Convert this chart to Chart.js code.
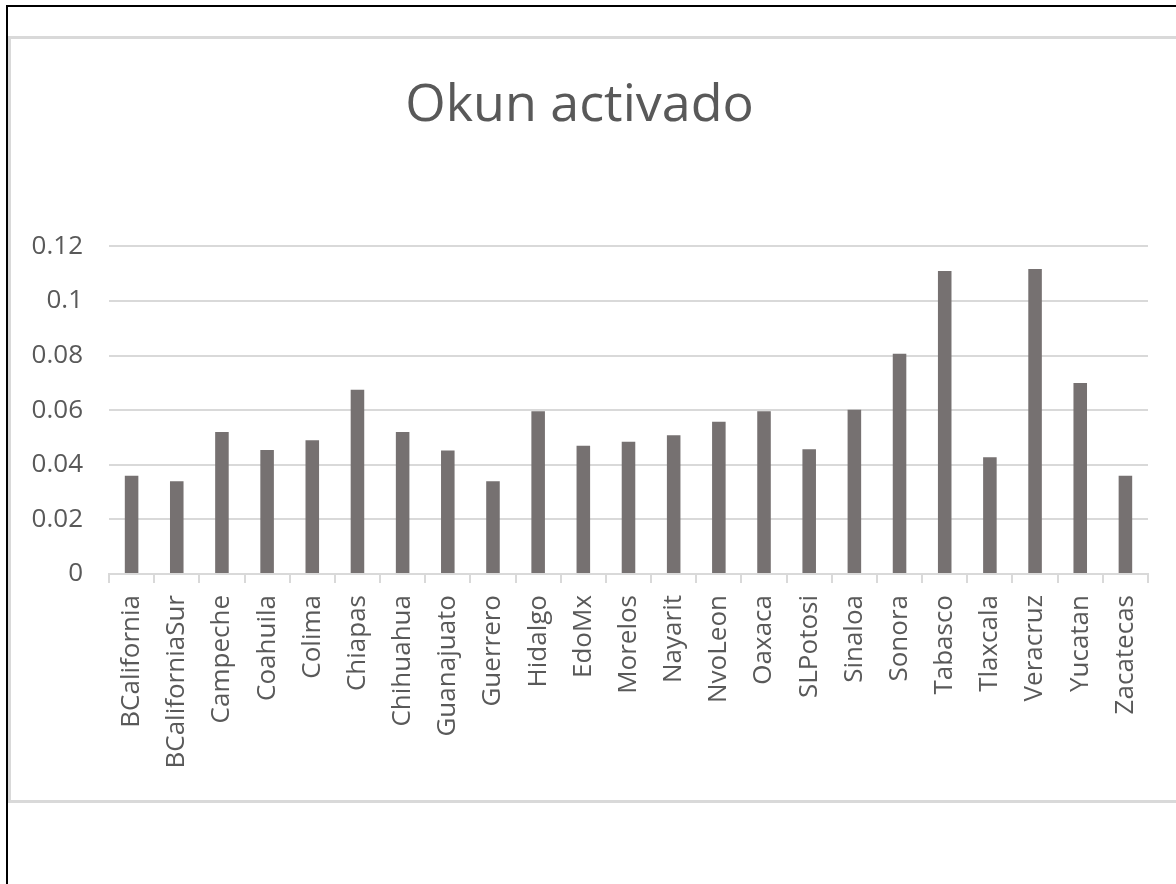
<!DOCTYPE html>
<html>
<head>
<meta charset="utf-8">
<script src="https://cdn.jsdelivr.net/npm/chart.js@4"></script>
<style>
    html, body { margin: 0; padding: 0; background: #fff; overflow: hidden; }
    .outer {
        position: absolute; left: 6px; top: 5px; width: 1200px; height: 900px;
        border-top: 2px solid #000; border-left: 2px solid #000;
    }
    .frame {
        position: absolute; left: 8px; top: 36px; width: 1200px; height: 761px;
        border: 3px solid #d9d9d9; background: #fff;
    }
    #chart { position: absolute; left: 11px; top: 39px; }
</style>
</head>
<body>
<div class="outer"></div>
<div class="frame"></div>
<canvas id="chart" width="1165" height="760"></canvas>
<script>
const states = ['BCalifornia', 'BCaliforniaSur', 'Campeche', 'Coahuila', 'Colima', 'Chiapas', 'Chihuahua',
    'Guanajuato', 'Guerrero', 'Hidalgo', 'EdoMx', 'Morelos', 'Nayarit', 'NvoLeon', 'Oaxaca', 'SLPotosi',
    'Sinaloa', 'Sonora', 'Tabasco', 'Tlaxcala', 'Veracruz', 'Yucatan', 'Zacatecas'];
const okunValues = [0.036, 0.034, 0.052, 0.0454, 0.049, 0.0675, 0.052,
    0.0452, 0.034, 0.0596, 0.047, 0.0484, 0.0508, 0.0558, 0.0596, 0.0457,
    0.0602, 0.0807, 0.111, 0.0428, 0.1117, 0.070, 0.036];
const yTickValues = [0, 0.02, 0.04, 0.06, 0.08, 0.1, 0.12];
const yTickLabels = ['0', '0.02', '0.04', '0.06', '0.08', '0.1', '0.12'];

const textColor = '#595959';
const gridColor = '#d9d9d9';
const fontFamily = '"Open Sans", "Noto Sans", sans-serif';

const ctx = document.getElementById('chart').getContext('2d');
new Chart(ctx, {
    type: 'bar',
    data: {
        labels: states,
        datasets: [{
            label: 'Okun activado',
            data: okunValues,
            backgroundColor: '#767171',
            borderWidth: 0,
            barPercentage: 0.3,
            categoryPercentage: 1
        }]
    },
    options: {
        responsive: false,
        animation: false,
        layout: { padding: { left: 0, right: 28, top: 0, bottom: 0 } },
        plugins: {
            legend: { display: false },
            tooltip: { enabled: false },
            title: {
                display: true,
                text: 'Okun activado',
                color: textColor,
                font: { family: fontFamily, size: 52, weight: 'normal' },
                padding: { top: 36, bottom: 109 }
            }
        },
        scales: {
            x: {
                grid: { display: true, drawOnChartArea: false, offset: true, tickLength: 9, color: gridColor, lineWidth: 2 },
                border: { display: true, color: gridColor, width: 2 },
                ticks: {
                    color: textColor,
                    font: { family: fontFamily, size: 26 },
                    minRotation: 90, maxRotation: 90,
                    autoSkip: false,
                    padding: 12
                },
                afterFit: (scale) => { scale.height = 225; }
            },
            y: {
                min: 0, max: 0.12,
                afterBuildTicks: (scale) => { scale.ticks = yTickValues.map(v => ({ value: v })); },
                grid: { color: gridColor, lineWidth: 2, drawTicks: false },
                border: { display: false },
                ticks: {
                    color: textColor,
                    font: { family: fontFamily, size: 26 },
                    padding: 26,
                    callback: (v, i) => yTickLabels[i]
                },
                afterFit: (scale) => { scale.width = 98; }
            }
        }
    }
});
</script>
</body>
</html>
